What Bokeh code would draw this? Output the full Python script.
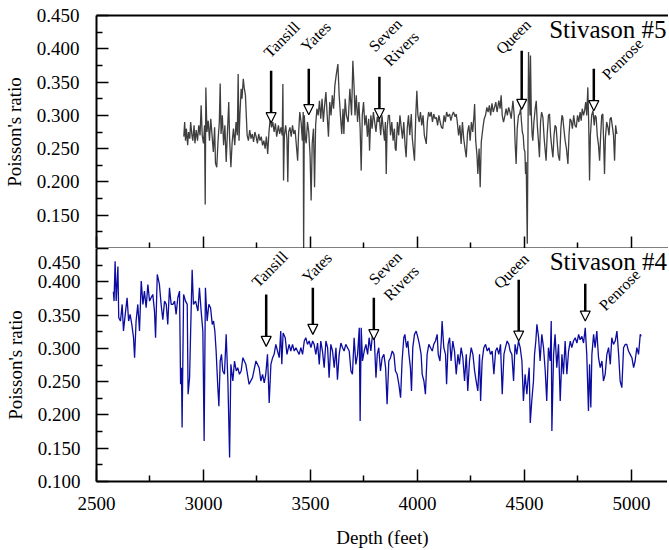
from bokeh.plotting import figure
from bokeh.layouts import column
from bokeh.models import (FixedTicker, LinearAxis, Arrow, NormalHead, Label,
                          Range1d, PrintfTickFormatter)
from bokeh.embed import file_html
from bokeh.resources import INLINE

FONT = "Liberation Serif"

# ---------------- data (depth ft, Poisson's ratio) ----------------
STIVASON5 = [
    (2908,0.268),(2912,0.290),(2916,0.262),(2920,0.280),(2926,0.255),(2930,0.275),(2936,0.265),(2940,0.290),
    (2946,0.270),(2950,0.262),(2956,0.285),(2960,0.258),(2966,0.278),(2972,0.262),(2978,0.285),(2984,0.270),
    (2989,0.315),(2994,0.270),(3000,0.258),(3005,0.285),(3008,0.166),(3011,0.342),(3016,0.275),(3022,0.292),
    (3028,0.262),(3034,0.295),(3040,0.270),(3046,0.245),(3052,0.282),(3056,0.228),(3062,0.222),(3068,0.262),
    (3074,0.290),(3078,0.348),(3082,0.272),(3088,0.300),(3094,0.255),(3100,0.285),(3106,0.230),(3112,0.275),
    (3118,0.320),(3122,0.265),(3128,0.222),(3134,0.260),(3140,0.280),(3146,0.255),(3152,0.290),(3158,0.270),
    (3162,0.362),(3166,0.262),(3170,0.300),(3176,0.340),(3180,0.325),(3186,0.355),(3190,0.342),(3196,0.330),
    (3200,0.300),(3204,0.270),(3210,0.262),(3216,0.278),(3222,0.265),(3228,0.272),(3234,0.260),(3240,0.275),
    (3246,0.268),(3252,0.258),(3258,0.272),(3264,0.262),(3270,0.268),(3276,0.255),(3282,0.262),(3288,0.250),
    (3294,0.268),(3300,0.242),(3306,0.275),(3312,0.296),(3318,0.282),(3324,0.290),(3330,0.275),(3336,0.288),
    (3342,0.268),(3350,0.285),(3356,0.272),(3362,0.282),(3368,0.270),(3371,0.347),(3374,0.202),(3378,0.270),
    (3384,0.285),(3390,0.265),(3394,0.200),(3398,0.275),(3404,0.282),(3410,0.268),(3416,0.285),(3422,0.272),
    (3428,0.278),(3434,0.255),(3440,0.232),(3444,0.270),(3450,0.305),(3456,0.290),(3462,0.262),(3466,0.305),
    (3468,0.095),(3471,0.300),(3476,0.265),(3480,0.258),(3486,0.290),(3492,0.275),(3498,0.240),(3503,0.172),
    (3508,0.258),(3514,0.280),(3519,0.192),(3524,0.285),(3530,0.310),(3536,0.300),(3542,0.322),(3548,0.295),
    (3554,0.325),(3560,0.290),(3566,0.315),(3572,0.335),(3578,0.300),(3584,0.268),(3590,0.320),(3596,0.300),
    (3602,0.330),(3608,0.310),(3614,0.345),(3620,0.360),(3628,0.377),(3634,0.330),(3640,0.300),(3646,0.272),
    (3652,0.310),(3656,0.272),(3662,0.325),(3668,0.300),(3676,0.290),(3684,0.340),(3692,0.300),(3698,0.382),
    (3704,0.340),(3708,0.300),(3714,0.330),(3720,0.290),(3726,0.320),(3732,0.280),(3737,0.217),(3742,0.300),
    (3748,0.320),(3754,0.285),(3760,0.300),(3766,0.268),(3772,0.295),(3776,0.247),(3782,0.300),(3788,0.280),
    (3794,0.305),(3800,0.290),(3806,0.275),(3812,0.298),(3816,0.290),(3822,0.297),(3828,0.270),(3834,0.300),
    (3840,0.280),(3846,0.262),(3850,0.290),(3854,0.212),(3858,0.280),(3864,0.300),(3869,0.300),(3874,0.270),
    (3880,0.290),(3886,0.262),(3892,0.280),(3896,0.250),(3900,0.247),(3906,0.290),(3912,0.270),(3918,0.300),
    (3924,0.282),(3930,0.265),(3936,0.290),(3942,0.255),(3947,0.237),(3952,0.280),(3958,0.300),(3964,0.270),
    (3971,0.302),(3976,0.265),(3982,0.245),(3986,0.232),(3992,0.300),(3997,0.337),(4002,0.300),(4008,0.290),
    (4014,0.305),(4020,0.285),(4026,0.300),(4032,0.270),(4038,0.262),(4041,0.257),(4046,0.290),(4052,0.305),
    (4058,0.298),(4064,0.305),(4070,0.290),(4076,0.302),(4082,0.295),(4088,0.297),(4094,0.285),(4100,0.300),
    (4106,0.290),(4112,0.282),(4118,0.280),(4124,0.300),(4130,0.290),(4136,0.305),(4142,0.298),(4150,0.302),
    (4156,0.292),(4162,0.300),(4168,0.305),(4176,0.298),(4181,0.302),(4186,0.290),(4192,0.270),(4198,0.285),
    (4204,0.257),(4210,0.290),(4216,0.265),(4222,0.250),(4228,0.237),(4234,0.275),(4240,0.285),(4246,0.262),
    (4252,0.290),(4258,0.275),(4264,0.300),(4267,0.317),(4272,0.262),(4278,0.240),(4282,0.212),(4288,0.250),
    (4293,0.192),(4298,0.260),(4306,0.282),(4312,0.295),(4318,0.300),(4324,0.312),(4330,0.305),(4336,0.315),
    (4342,0.300),(4348,0.318),(4354,0.305),(4360,0.312),(4366,0.320),(4372,0.305),(4380,0.322),(4386,0.310),
    (4391,0.330),(4396,0.300),(4402,0.290),(4407,0.297),(4414,0.310),(4420,0.300),(4426,0.312),(4432,0.305),
    (4438,0.295),(4446,0.322),(4452,0.300),(4456,0.260),(4461,0.227),(4466,0.280),(4472,0.300),(4477,0.302),
    (4482,0.310),(4486,0.290),(4490,0.275),(4494,0.270),(4498,0.250),(4502,0.245),(4505,0.212),(4508,0.230),
    (4510,0.180),(4513,0.107),(4516,0.250),(4519,0.395),(4522,0.340),(4526,0.300),(4528,0.390),(4532,0.300),
    (4536,0.270),(4539,0.262),(4544,0.290),(4550,0.310),(4555,0.322),(4560,0.285),(4565,0.262),(4570,0.237),
    (4575,0.290),(4580,0.305),(4586,0.297),(4592,0.265),(4596,0.250),(4601,0.232),(4606,0.270),(4612,0.300),
    (4617,0.302),(4622,0.270),(4628,0.250),(4633,0.237),(4638,0.270),(4643,0.285),(4648,0.282),(4654,0.255),
    (4658,0.240),(4664,0.232),(4670,0.280),(4675,0.300),(4679,0.297),(4684,0.280),(4690,0.262),(4696,0.250),
    (4703,0.227),(4708,0.270),(4713,0.295),(4718,0.292),(4724,0.280),(4730,0.300),(4736,0.285),(4742,0.282),
    (4748,0.300),(4754,0.290),(4760,0.305),(4765,0.292),(4770,0.310),(4776,0.300),(4781,0.307),(4786,0.320),
    (4791,0.300),(4796,0.342),(4800,0.290),(4804,0.202),(4808,0.270),(4814,0.300),(4820,0.307),(4826,0.285),
    (4830,0.300),(4835,0.297),(4840,0.270),(4846,0.255),(4851,0.232),(4856,0.270),(4861,0.300),(4866,0.302),
    (4870,0.260),(4874,0.212),(4878,0.265),(4884,0.290),(4890,0.282),(4895,0.270),(4900,0.295),(4905,0.297),
    (4910,0.285),(4916,0.270),(4921,0.232),(4926,0.285),(4930,0.275),(4932,0.272),
]

STIVASON4 = [
    (2579,0.385),(2582,0.371),(2587,0.431),(2592,0.371),(2600,0.423),(2604,0.346),(2612,0.341),(2620,0.366),
    (2626,0.326),(2636,0.356),(2643,0.376),(2650,0.341),(2657,0.351),(2665,0.336),(2673,0.316),(2678,0.286),
    (2685,0.341),(2693,0.366),(2701,0.326),(2709,0.401),(2717,0.366),(2724,0.386),(2732,0.361),(2740,0.396),
    (2748,0.371),(2755,0.376),(2763,0.381),(2771,0.356),(2776,0.316),(2784,0.411),(2794,0.396),(2802,0.366),
    (2810,0.343),(2818,0.371),(2826,0.366),(2833,0.336),(2841,0.391),(2849,0.366),(2857,0.366),(2865,0.371),
    (2872,0.351),(2880,0.376),(2888,0.386),(2893,0.246),(2897,0.271),(2900,0.181),(2907,0.381),(2916,0.371),
    (2924,0.366),(2928,0.231),(2935,0.256),(2941,0.340),(2947,0.418),(2953,0.366),(2963,0.371),(2974,0.356),
    (2981,0.391),(2989,0.356),(2997,0.326),(3003,0.161),(3009,0.391),(3017,0.341),(3025,0.366),(3033,0.361),
    (3041,0.336),(3047,0.341),(3053,0.326),(3059,0.296),(3067,0.241),(3072,0.213),(3078,0.281),(3084,0.291),
    (3090,0.266),(3098,0.261),(3106,0.321),(3114,0.251),(3122,0.136),(3128,0.276),(3137,0.251),(3145,0.281),
    (3153,0.266),(3160,0.271),(3168,0.261),(3176,0.266),(3184,0.286),(3198,0.276),(3213,0.246),(3229,0.256),
    (3245,0.281),(3260,0.271),(3268,0.251),(3276,0.261),(3284,0.248),(3291,0.261),(3299,0.291),(3307,0.218),
    (3315,0.276),(3323,0.286),(3330,0.291),(3338,0.306),(3346,0.296),(3354,0.286),(3361,0.326),(3366,0.276),
    (3372,0.323),(3382,0.316),(3390,0.291),(3400,0.306),(3408,0.296),(3416,0.306),(3424,0.296),(3432,0.301),
    (3439,0.296),(3447,0.291),(3455,0.301),(3463,0.291),(3471,0.311),(3478,0.316),(3486,0.306),(3494,0.311),
    (3502,0.301),(3510,0.311),(3517,0.306),(3525,0.291),(3533,0.308),(3541,0.276),(3548,0.311),(3556,0.296),
    (3564,0.271),(3572,0.311),(3580,0.301),(3587,0.256),(3595,0.306),(3603,0.296),(3611,0.271),(3619,0.301),
    (3626,0.253),(3634,0.291),(3642,0.308),(3650,0.301),(3657,0.296),(3665,0.306),(3673,0.301),(3681,0.296),
    (3689,0.266),(3696,0.261),(3704,0.316),(3712,0.276),(3720,0.291),(3728,0.331),(3732,0.191),(3737,0.331),
    (3743,0.281),(3751,0.296),(3759,0.306),(3767,0.291),(3774,0.316),(3782,0.296),(3790,0.321),(3798,0.316),
    (3806,0.256),(3812,0.291),(3819,0.301),(3827,0.266),(3835,0.286),(3843,0.291),(3851,0.271),(3858,0.216),
    (3866,0.281),(3874,0.286),(3882,0.296),(3890,0.291),(3897,0.266),(3905,0.261),(3913,0.246),(3921,0.226),
    (3928,0.281),(3936,0.316),(3941,0.321),(3949,0.301),(3955,0.311),(3960,0.291),(3967,0.271),(3972,0.236),
    (3978,0.301),(3986,0.321),(3994,0.326),(4002,0.316),(4009,0.306),(4017,0.291),(4022,0.261),(4030,0.251),
    (4037,0.231),(4045,0.291),(4053,0.306),(4061,0.301),(4069,0.296),(4076,0.306),(4084,0.311),(4092,0.321),
    (4097,0.291),(4105,0.281),(4111,0.311),(4115,0.341),(4123,0.301),(4131,0.291),(4136,0.246),(4143,0.306),
    (4150,0.316),(4157,0.281),(4165,0.311),(4173,0.296),(4181,0.261),(4189,0.291),(4196,0.276),(4204,0.301),
    (4212,0.286),(4220,0.251),(4228,0.291),(4235,0.236),(4243,0.281),(4251,0.301),(4259,0.291),(4267,0.266),
    (4274,0.251),(4282,0.236),(4290,0.291),(4295,0.221),(4302,0.281),(4310,0.301),(4318,0.306),(4326,0.296),
    (4334,0.301),(4341,0.291),(4349,0.296),(4357,0.261),(4365,0.296),(4372,0.301),(4380,0.291),(4388,0.306),
    (4396,0.231),(4404,0.291),(4411,0.301),(4419,0.311),(4427,0.306),(4433,0.296),(4441,0.291),(4449,0.251),
    (4456,0.306),(4464,0.291),(4472,0.311),(4480,0.301),(4488,0.281),(4495,0.221),(4503,0.261),(4511,0.231),
    (4516,0.251),(4522,0.271),(4527,0.188),(4534,0.221),(4542,0.251),(4547,0.291),(4553,0.311),(4558,0.336),
    (4566,0.316),(4573,0.281),(4581,0.321),(4589,0.301),(4597,0.266),(4604,0.221),(4612,0.301),(4620,0.281),
    (4625,0.341),(4628,0.176),(4636,0.291),(4643,0.321),(4651,0.271),(4659,0.306),(4667,0.221),(4675,0.291),
    (4682,0.261),(4690,0.311),(4698,0.261),(4706,0.296),(4714,0.311),(4721,0.301),(4729,0.311),(4737,0.316),
    (4745,0.308),(4753,0.321),(4760,0.313),(4768,0.318),(4776,0.308),(4784,0.331),(4791,0.291),(4799,0.206),
    (4804,0.276),(4810,0.211),(4815,0.291),(4823,0.321),(4830,0.301),(4838,0.326),(4846,0.286),(4854,0.271),
    (4862,0.281),(4869,0.251),(4877,0.261),(4885,0.291),(4893,0.301),(4901,0.276),(4908,0.316),(4916,0.306),
    (4924,0.311),(4932,0.326),(4940,0.291),(4947,0.251),(4955,0.241),(4963,0.301),(4971,0.306),(4978,0.306),
    (4986,0.296),(4994,0.291),(5002,0.286),(5010,0.271),(5017,0.281),(5025,0.301),(5033,0.291),(5041,0.321),
    (5045,0.318),
]

WELLS = ["Stivason #5", "Stivason #4"]
FORMATIONS = ["Tansill", "Yates", "Seven Rivers", "Queen", "Penrose"]
TOPS5 = [3316, 3492, 3822, 4487, 4824]   # formation tops picked, well #5 (ft)
TOPS4 = [3293, 3511, 3796, 4473, 4784]   # formation tops picked, well #4 (ft)

X_TICKS = [2500, 3000, 3500, 4000, 4500, 5000]
X_MINOR = [2750, 3250, 3750, 4250, 4750]
Y_TICKS5 = [0.15, 0.20, 0.25, 0.30, 0.35, 0.40, 0.45]
Y_TICKS4 = [0.10, 0.15, 0.20, 0.25, 0.30, 0.35, 0.40, 0.45]
Y_MINOR = [0.125, 0.175, 0.225, 0.275, 0.325, 0.375, 0.425]
# lower panel: its "0.450" label sits a little below the panel's top edge
Y_LABEL_AT4 = [0.10, 0.15, 0.20, 0.25, 0.30, 0.35, 0.40, 0.429]
Y_LABEL_TEXT4 = ["0.100", "0.150", "0.200", "0.250", "0.300", "0.350", "0.400", "0.450"]

# ---------------- annotation placement (not data) ----------------
ARROW_TOP5 = [0.367, 0.370, 0.358, 0.397, 0.370]
ARROW_TIP5 = [0.289, 0.301, 0.295, 0.309, 0.307]
ARROW_TOP4 = [0.381, 0.391, 0.376, 0.403, 0.397]
ARROW_TIP4 = [0.303, 0.321, 0.313, 0.311, 0.341]
LABEL_POS5 = [[(3294, 0.391)], [(3467, 0.400)], [(3785, 0.400), (3855, 0.378)],
              [(4379, 0.396)], [(4874, 0.358)]]
LABEL_POS4 = [[(3238, 0.396)], [(3472, 0.403)], [(3785, 0.400), (3855, 0.376)],
              [(4369, 0.394)], [(4860, 0.361)]]
TITLE_POS = [(5164, 0.429), (5166, 0.4305)]


def style_axis(ax, font_size="19px"):
    ax.axis_line_width = 2
    ax.axis_line_color = "black"
    ax.major_tick_in = 12
    ax.major_tick_out = 0
    ax.minor_tick_in = 6
    ax.minor_tick_out = 0
    ax.major_tick_line_width = 1.5
    ax.minor_tick_line_width = 1.5
    ax.major_label_text_font = FONT
    ax.major_label_text_font_size = font_size
    ax.major_label_text_color = "black"
    ax.axis_label_text_font = FONT
    ax.axis_label_text_font_size = "19px"
    ax.axis_label_text_font_style = "normal"
    ax.axis_label_text_color = "black"


def hide_labels(ax):
    ax.major_label_text_color = None
    ax.major_label_text_font_size = "1px"
    ax.major_label_standoff = 0
    ax.axis_label_standoff = 0


def make_panel(series, color, tops, arrow_top, arrow_tip, label_pos, y_ticks,
               title, title_pos, is_bottom):
    p = figure(frame_width=572, frame_height=233,
               x_range=Range1d(2500, 5173), y_range=Range1d(0.10, 0.45),
               output_backend="svg", toolbar_location=None,
               min_border_left=89, min_border_right=0,
               min_border_top=0 if is_bottom else 15, min_border_bottom=0)
    p.outline_line_color = None
    p.grid.visible = False
    p.background_fill_color = "white"
    p.border_fill_color = "white"

    d = [s[0] for s in series]
    v = [s[1] for s in series]
    p.line(d, v, line_color=color, line_width=1.3)

    # y axis (ticks)
    yax = p.yaxis[0]
    yax.ticker = FixedTicker(ticks=y_ticks, minor_ticks=Y_MINOR)
    yax.formatter = PrintfTickFormatter(format="%.3f")
    style_axis(yax)
    if not is_bottom:
        yax.major_label_standoff = 17
        yax.axis_label = "Poisson's ratio"
        yax.axis_label_standoff = 9
    else:
        hide_labels(yax)
        # labels of the lower panel, carried by a tick-less companion axis
        lab = LinearAxis(ticker=FixedTicker(ticks=Y_LABEL_AT4, minor_ticks=[]),
                         formatter=PrintfTickFormatter(format="%.3f"),
                         major_label_overrides=dict(zip(Y_LABEL_AT4, Y_LABEL_TEXT4)))
        style_axis(lab)
        lab.axis_line_color = None
        lab.major_tick_in = 0
        lab.minor_tick_in = 0
        lab.major_label_standoff = 16
        lab.axis_label = "Poisson's ratio"
        lab.axis_label_standoff = 9
        p.add_layout(lab, "left")

    # x axis
    xax = p.xaxis[0]
    xax.ticker = FixedTicker(ticks=X_TICKS, minor_ticks=X_MINOR)
    style_axis(xax)
    if is_bottom:
        xax.major_label_standoff = 15
        xax.axis_label = "Depth (feet)"
        xax.axis_label_standoff = 14
    else:
        # ticks only, no tick labels on the upper panel's depth axis
        hide_labels(xax)
        top_ax = LinearAxis(ticker=FixedTicker(ticks=[]), major_label_standoff=0,
                            major_label_text_color=None,
                            major_label_text_font_size="1px", axis_line_width=2,
                            major_tick_in=0, major_tick_out=0,
                            minor_tick_in=0, minor_tick_out=0)
        p.add_layout(top_ax, "above")

    # formation arrows and names
    for name, x, yt, yb, pos in zip(FORMATIONS, tops, arrow_top, arrow_tip, label_pos):
        p.add_layout(Arrow(end=NormalHead(size=10, fill_color="white",
                                          line_color="black", line_width=1.2),
                           x_start=x, y_start=yt, x_end=x, y_end=yb,
                           line_width=2.5, line_color="black"))
        for word, (lx, ly) in zip(name.split(" "), pos):
            p.add_layout(Label(x=lx, y=ly, text=word, angle=45, angle_units="deg",
                               text_align="left", text_baseline="alphabetic",
                               text_font=FONT, text_font_size="16px",
                               text_color="black"))

    p.add_layout(Label(x=title_pos[0], y=title_pos[1], text=title,
                       text_align="right", text_baseline="alphabetic",
                       text_font=FONT, text_font_size="25px", text_color="black"))
    return p


top = make_panel(STIVASON5, "#3f3f3f", TOPS5, ARROW_TOP5, ARROW_TIP5, LABEL_POS5,
                 Y_TICKS5, WELLS[0], TITLE_POS[0], False)
bottom = make_panel(STIVASON4, "#0c0ca0", TOPS4, ARROW_TOP4, ARROW_TIP4, LABEL_POS4,
                    Y_TICKS4, WELLS[1], TITLE_POS[1], True)

layout = column(top, bottom, spacing=0)
open("out.html", "w").write(file_html(layout, INLINE))
